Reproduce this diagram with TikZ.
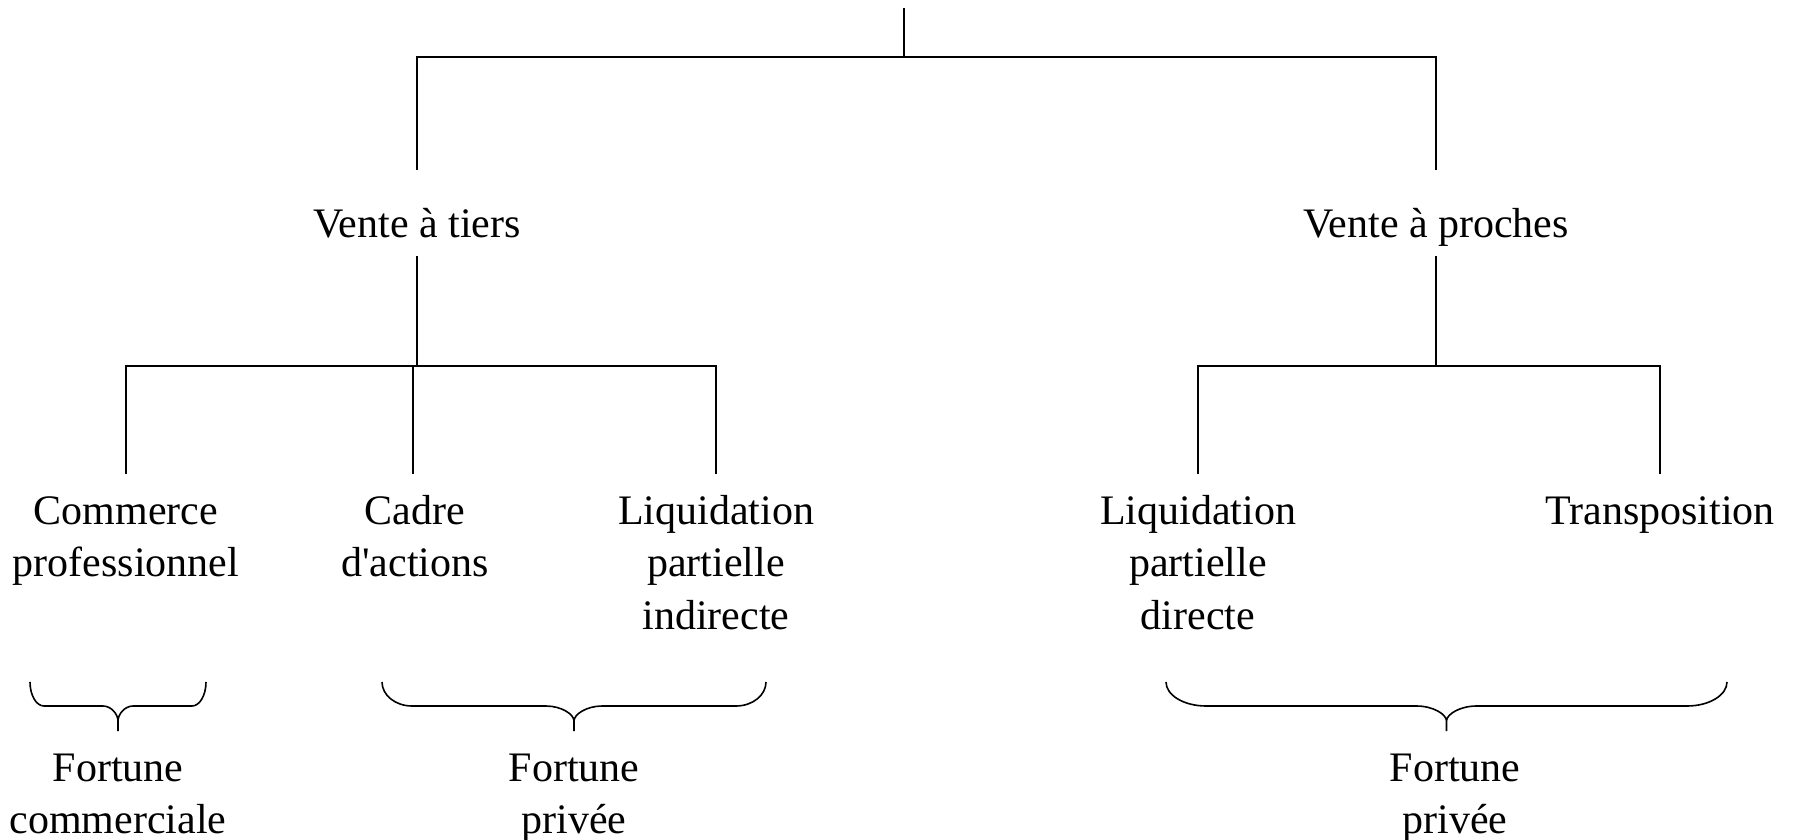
\documentclass[tikz,border=0pt]{standalone}
\usepackage{fontspec}
\newfontfamily\labelserif{Liberation Serif}
\begin{document}
\begin{tikzpicture}[x=1pt,y=-1pt,
  lbl/.style={font=\labelserif\fontsize{42}{52.6}\selectfont, align=center, inner sep=0pt, anchor=base},
  link/.style={line width=1.6pt, line cap=rect},
  bracepath/.style={line width=1.6pt}]
\useasboundingbox (0,0) rectangle (1793,840);

% labels (anchored at the baseline of their last line)
\node[lbl] (tiers)   at (417,237) {Vente à tiers};
\node[lbl] (proches) at (1436,237) {Vente à proches};
\node[lbl] (comm)    at (126,576.6) {Commerce\\professionnel};
\node[lbl] (cadre)   at (415,576.6) {Cadre\\d'actions};
\node[lbl] (liqind)  at (716,629.2) {Liquidation\\partielle\\indirecte};
\node[lbl] (liqdir)  at (1198,629.2) {Liquidation\\partielle\\directe};
\node[lbl] (transp)  at (1660,524) {Transposition};
\node[lbl] (fcom)    at (118,833.6) {Fortune\\commerciale};
\node[lbl] (fpriv1)  at (574,833.6) {Fortune\\privée};
\node[lbl] (fpriv2)  at (1455,833.6) {Fortune\\privée};

% tree junctions
\coordinate (root)  at (904,9);
\coordinate (rootj) at (904,57);
\coordinate (tl)    at (417,57);
\coordinate (tr)    at (1436,57);
\coordinate (tiersin)   at (417,169);
\coordinate (prochesin) at (1436,169);
\coordinate (tiersout)   at (417,257);
\coordinate (prochesout) at (1436,257);
\coordinate (lj)  at (417,366);
\coordinate (rj)  at (1436,366);
\coordinate (commtop)   at (126,366);
\coordinate (cadretop)  at (413,366);
\coordinate (liqindtop) at (716,366);
\coordinate (liqdirtop) at (1198,366);
\coordinate (transptop) at (1660,366);
\coordinate (commin)   at (126,473);
\coordinate (cadrein)  at (413,473);
\coordinate (liqindin) at (716,473);
\coordinate (liqdirin) at (1198,473);
\coordinate (transpin) at (1660,473);

\draw[link] (root) -- (rootj);
\draw[link] (tiersin) -- (tl) -- (tr) -- (prochesin);
\draw[link] (tiersout) -- (lj);
\draw[link] (prochesout) -- (rj);
\draw[link] (commin) -- (commtop) -- (liqindtop) -- (liqindin);
\draw[link] (cadretop) -- (cadrein);
\draw[link] (liqdirin) -- (liqdirtop) -- (transptop) -- (transpin);

% under-braces: #1 left end, #2 right end, #3 end-corner width, #4 cusp half-width
% ends start at y=682, the bar runs at y=706, the tip reaches y=731
\newcommand{\groupbrace}[4]{%
  \draw[bracepath]
    (#1,682) .. controls (#1,695.2) and ({#1+0.448*#3},706) .. ({#1+#3},706)
    -- ({(#1+#2)/2-#4},706) .. controls ({(#1+#2)/2-0.448*#4},706) and ({(#1+#2)/2},714.3) .. ({(#1+#2)/2},721)
    -- ({(#1+#2)/2},731) -- ({(#1+#2)/2},721)
    .. controls ({(#1+#2)/2},714.3) and ({(#1+#2)/2+0.448*#4},706) .. ({(#1+#2)/2+#4},706)
    -- ({#2-#3},706) .. controls ({#2-0.448*#3},706) and (#2,695.2) .. (#2,682);}
\groupbrace{30}{206}{14}{15}
\groupbrace{382}{766}{30}{28}
\groupbrace{1166}{1727}{40}{30}
\end{tikzpicture}
\end{document}
